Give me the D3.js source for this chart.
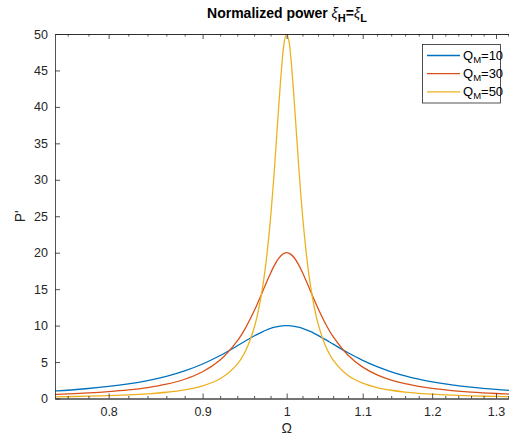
<!DOCTYPE html>
<html><head><meta charset="utf-8">
<script src="https://cdn.jsdelivr.net/npm/d3@7"></script>
<style>body{margin:0;background:#fff}svg{display:block}text{font-family:"Liberation Sans",Arial,Helvetica,sans-serif}</style>
</head><body><div id="chart"></div>
<script>
const omega = [0.74,0.75,0.78,0.80,0.82,0.84,0.86,0.88,0.90,0.92,0.94,0.95,0.96,0.965,0.97,0.975,0.98,0.985,0.99,0.995,0.9975,1.0,1.0025,1.005,1.01,1.015,1.02,1.025,1.03,1.035,1.04,1.05,1.06,1.08,1.10,1.12,1.14,1.16,1.18,1.20,1.23,1.26,1.30,1.34];
const qm10 = [1.00,1.052,1.370,1.649,2.004,2.457,3.038,3.784,4.730,5.893,7.229,7.916,8.571,8.873,9.151,9.398,9.608,9.777,9.900,9.975,9.994,10.0,9.994,9.975,9.902,9.783,9.623,9.425,9.196,8.941,8.666,8.076,7.463,6.276,5.232,4.367,3.667,3.106,2.656,2.293,1.870,1.553,1.243,1.019];
const qm30 = [0.54,0.571,0.763,0.941,1.179,1.506,1.967,2.641,3.665,5.281,7.896,9.740,11.998,13.26,14.586,15.92,17.193,18.326,19.223,19.801,19.95,20.0,19.95,19.803,19.238,18.371,17.288,16.08,14.819,13.57,12.379,10.241,8.476,5.928,4.306,3.247,2.529,2.025,1.659,1.385,1.088,0.879,0.686,0.552];
const qm50 = [0.21,0.234,0.315,0.392,0.496,0.643,0.858,1.188,1.733,2.715,4.725,6.594,9.675,11.98,15.06,19.21,24.75,31.83,39.92,47.05,49.23,50.0,49.23,47.07,40.08,32.17,25.24,19.81,15.70,12.63,10.31,7.188,5.264,3.157,2.103,1.504,1.132,0.885,0.713,0.588,0.456,0.365,0.282,0.226];
const seriesNames = ["10","30","50"];
const colors = ["#0072BD","#D95319","#EDB120"];
const xTicks = [0.8,0.9,1,1.1,1.2,1.3];
const xMinorTicks = [0.76,0.78,0.82,0.84,0.86,0.88,0.92,0.94,0.96,0.98,1.02,1.04,1.06,1.08,1.12,1.14,1.16,1.18,1.22,1.24,1.26,1.28,1.32];
const yTicks = [0,5,10,15,20,25,30,35,40,45,50];

const W=509,H=435;
const L=55,R=510,T=34,B=398.5;
const svg=d3.select("#chart").append("svg").attr("width",W).attr("height",H);
const x=d3.scaleLog().domain([0.748,1.323]).range([L,R]);
const y=d3.scaleLinear().domain([0,50]).range([B,T]);
const axc="#262626";

svg.append("defs").append("clipPath").attr("id","clip").append("rect").attr("x",L).attr("y",T).attr("width",R-L).attr("height",B-T);

const line=d3.line().x((d,i)=>x(omega[i])).y(d=>y(d)).curve(d3.curveCatmullRom.alpha(0.5));
const g=svg.append("g").attr("clip-path","url(#clip)");
[qm10,qm30,qm50].forEach((s,i)=>{
  g.append("path").attr("d",line(s)).attr("fill","none").attr("stroke",colors[i]).attr("stroke-width",1.3);
});

// axes
const fmt=d=>String(d);
const xb=svg.append("g").attr("transform",`translate(0,${B})`).call(d3.axisBottom(x).tickValues(xTicks).tickFormat(fmt).tickSizeInner(-5).tickSizeOuter(0).tickPadding(8));
const xbm=svg.append("g").attr("transform",`translate(0,${B})`).call(d3.axisBottom(x).tickValues(xMinorTicks).tickFormat("").tickSizeInner(-2.5).tickSizeOuter(0));
const xt=svg.append("g").attr("transform",`translate(0,${T})`).call(d3.axisTop(x).tickValues(xTicks).tickFormat("").tickSizeInner(-5).tickSizeOuter(0));
const xtm=svg.append("g").attr("transform",`translate(0,${T})`).call(d3.axisTop(x).tickValues(xMinorTicks).tickFormat("").tickSizeInner(-2.5).tickSizeOuter(0));
const yl=svg.append("g").attr("transform",`translate(${L},0)`).call(d3.axisLeft(y).tickValues(yTicks).tickFormat(fmt).tickSizeInner(-5).tickSizeOuter(0).tickPadding(8));
[xb,xbm,xt,xtm,yl].forEach(a=>{
  a.select(".domain").attr("stroke",axc).attr("stroke-width",0.8);
  a.selectAll(".tick line").attr("stroke",axc).attr("stroke-width",0.8);
  a.selectAll("text").attr("fill",axc).style("font-size","12.5px");
});
xb.selectAll(".tick text").attr("y",17.5).attr("dy",0);
yl.selectAll(".tick text").attr("x",-7);

// labels
svg.append("text").attr("x",x(1)).attr("y",433).attr("text-anchor","middle").attr("fill",axc).style("font-size","14px").text("Ω");
svg.append("text").attr("transform",`translate(25,${(T+B)/2}) rotate(-90)`).attr("text-anchor","middle").attr("fill",axc).style("font-size","14px").text("P'");

const title=svg.append("text").attr("x",287).attr("y",18).attr("text-anchor","middle").attr("fill","#000").style("font-size","14px").style("font-weight","bold");
title.append("tspan").text("Normalized power ");
title.append("tspan").style("font-weight","normal").style("font-style","italic").text("ξ");
title.append("tspan").attr("dy",4).style("font-size","11px").text("H");
title.append("tspan").attr("dy",-4).text("=");
title.append("tspan").style("font-weight","normal").style("font-style","italic").text("ξ");
title.append("tspan").attr("dy",4).style("font-size","11px").text("L");

// legend
const lg=svg.append("g");
lg.append("rect").attr("x",422.5).attr("y",44.5).attr("width",78).attr("height",58.5).attr("fill","#fff").attr("stroke",axc).attr("stroke-width",0.8);
seriesNames.forEach((n,i)=>{
  const yy=55.5+i*18.2;
  lg.append("line").attr("x1",427).attr("x2",460).attr("y1",yy).attr("y2",yy).attr("stroke",colors[i]).attr("stroke-width",1.3);
  const t=lg.append("text").attr("x",463).attr("y",yy+4).attr("fill","#000").style("font-size","13px");
  t.append("tspan").text("Q");
  t.append("tspan").attr("dy",3.5).style("font-size","9.5px").text("M");
  t.append("tspan").attr("dy",-3.5).text("="+n);
});
</script></body></html>
